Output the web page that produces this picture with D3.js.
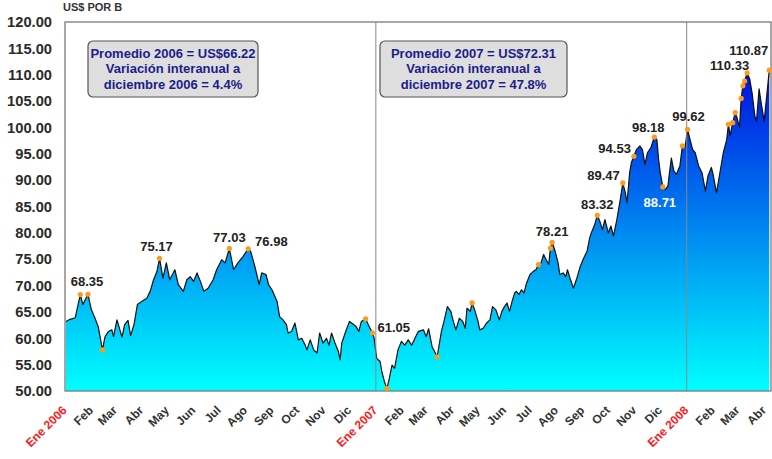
<!DOCTYPE html>
<html>
<head>
<meta charset="utf-8">
<script src="https://cdn.jsdelivr.net/npm/d3@7"></script>
<style>
body { margin: 0; background: #fff; }
svg { display: block; font-family: "Liberation Sans", Arial, sans-serif; }
</style>
</head>
<body>
<svg></svg>
<script>
// precio del petroleo, lecturas del grafico
var dates = [
  "2006-01-02","2006-01-07","2006-01-13","2006-01-15","2006-01-19","2006-01-22","2006-01-28","2006-02-01","2006-02-05","2006-02-09",
  "2006-02-14","2006-02-17","2006-02-21","2006-02-25","2006-02-27","2006-03-03","2006-03-09","2006-03-12","2006-03-16","2006-03-19",
  "2006-03-23","2006-03-27","2006-04-01","2006-04-07","2006-04-11","2006-04-15","2006-04-19","2006-04-22","2006-04-26","2006-04-30",
  "2006-05-04","2006-05-10","2006-05-14","2006-05-20","2006-05-24","2006-05-28","2006-06-01","2006-06-05","2006-06-09","2006-06-13",
  "2006-06-18","2006-06-24","2006-06-28","2006-07-04","2006-07-08","2006-07-13","2006-07-18","2006-07-23","2006-07-29","2006-08-04",
  "2006-08-07","2006-08-12","2006-08-17","2006-08-20","2006-08-25","2006-08-28","2006-09-01","2006-09-07","2006-09-10","2006-09-14",
  "2006-09-18","2006-09-20","2006-09-24","2006-09-28","2006-10-02","2006-10-06","2006-10-10","2006-10-12","2006-10-16","2006-10-20",
  "2006-10-24","2006-10-27","2006-10-31","2006-11-04","2006-11-07","2006-11-10","2006-11-14","2006-11-18","2006-11-20","2006-11-22",
  "2006-11-26","2006-12-01","2006-12-06","2006-12-09","2006-12-12","2006-12-15","2006-12-20","2006-12-23","2006-12-28","2006-12-30",
  "2007-01-02","2007-01-06","2007-01-08","2007-01-11","2007-01-14","2007-01-16","2007-01-20","2007-01-23","2007-01-27","2007-01-31",
  "2007-02-04","2007-02-08","2007-02-12","2007-02-18","2007-02-20","2007-02-26","2007-03-01","2007-03-04","2007-03-08","2007-03-11",
  "2007-03-14","2007-03-19","2007-03-22","2007-03-26","2007-03-30","2007-04-02","2007-04-05","2007-04-09","2007-04-13","2007-04-16",
  "2007-04-18","2007-04-22","2007-04-24","2007-04-27","2007-05-01","2007-05-03","2007-05-07","2007-05-11","2007-05-15","2007-05-18",
  "2007-05-22","2007-05-26","2007-05-29","2007-06-01","2007-06-04","2007-06-07","2007-06-10","2007-06-13","2007-06-15","2007-06-18",
  "2007-06-21","2007-06-24","2007-06-27","2007-07-01","2007-07-05","2007-07-08","2007-07-11","2007-07-14","2007-07-17","2007-07-20",
  "2007-07-23","2007-07-25","2007-07-27","2007-07-30","2007-08-03","2007-08-05","2007-08-09","2007-08-12","2007-08-14","2007-08-17",
  "2007-08-21","2007-08-25","2007-08-29","2007-09-02","2007-09-06","2007-09-09","2007-09-11","2007-09-15","2007-09-18","2007-09-21",
  "2007-09-24","2007-09-27","2007-10-01","2007-10-04","2007-10-07","2007-10-11","2007-10-15","2007-10-18","2007-10-21","2007-10-23",
  "2007-10-26","2007-10-28","2007-10-31","2007-11-03","2007-11-07","2007-11-10","2007-11-13","2007-11-16","2007-11-20","2007-11-24",
  "2007-11-27","2007-11-29","2007-12-01","2007-12-04","2007-12-07","2007-12-10","2007-12-12","2007-12-14","2007-12-17","2007-12-20",
  "2007-12-24","2007-12-27","2007-12-30","2008-01-02","2008-01-05","2008-01-08","2008-01-11","2008-01-15","2008-01-19","2008-01-23",
  "2008-01-26","2008-01-30","2008-02-01","2008-02-05","2008-02-09","2008-02-13","2008-02-17","2008-02-19","2008-02-21","2008-02-24",
  "2008-02-27","2008-02-29","2008-03-03","2008-03-05","2008-03-07","2008-03-09","2008-03-12","2008-03-15","2008-03-18","2008-03-21",
  "2008-03-23","2008-03-26","2008-03-29","2008-04-01","2008-04-04","2008-04-07"
];
var prices = [
  63.2,63.6,63.9,65.4,68.3,66.4,68.35,65.4,63.9,62.2,
  57.8,60.3,61.3,61.6,60.3,63.5,60.2,62.6,63.4,60.5,
  62.6,66.4,67.0,67.6,68.9,71.1,72.7,75.17,71.4,74.3,
  71.1,73.0,70.2,68.9,71.1,71.7,70.8,72.4,70.8,68.9,
  69.5,71.1,73.0,74.9,74.3,77.03,73.0,74.3,75.5,76.98,
  76.5,73.6,70.2,72.4,72.1,70.2,69.2,67.0,64.1,63.5,
  62.6,61.0,61.3,62.9,59.7,60.0,58.7,57.8,59.7,57.8,
  57.2,61.0,59.1,60.0,58.7,61.0,59.1,57.5,55.9,59.1,
  61.0,63.2,62.6,62.2,61.3,63.2,63.7,62.6,61.05,60.0,
  56.2,55.6,53.7,51.8,50.5,51.8,54.9,54.3,57.8,59.4,
  58.7,59.7,58.7,60.7,61.3,61.6,60.3,61.8,58.4,57.5,
  56.5,61.3,63.2,66.0,65.1,63.2,61.6,63.8,63.2,61.9,
  65.7,65.1,66.7,65.4,63.2,61.6,61.9,62.9,63.5,66.0,
  65.4,63.5,65.1,66.0,66.7,65.1,67.0,68.6,68.9,68.3,
  69.2,68.6,70.5,72.1,72.7,73.0,74.0,74.3,75.9,74.9,
  74.0,77.1,78.21,76.8,74.3,72.1,72.4,71.7,73.0,71.4,
  69.5,71.4,73.6,75.2,76.5,79.0,80.0,81.6,83.32,82.2,
  80.6,82.5,80.0,81.3,79.4,82.5,86.3,89.47,87.6,85.7,
  91.4,93.3,94.53,95.8,96.5,95.8,93.0,95.2,96.2,98.18,
  97.7,93.9,91.4,88.71,88.2,88.9,91.7,94.2,91.7,91.1,
  92.7,96.5,96.2,99.62,97.7,95.8,95.2,92.7,91.4,87.9,
  90.8,92.4,91.1,87.6,91.4,95.2,97.7,100.6,98.4,100.9,
  102.8,101.9,100.0,105.5,107.9,108.8,110.33,109.2,106.3,102.2,
  101.2,107.3,104.1,101.2,106.0,110.87
];

// puntos marcados en naranja
var dotDates = ["2006-01-19","2006-01-28","2006-02-14","2006-04-22","2006-07-13","2006-08-04","2006-12-20","2006-12-28",
  "2007-01-14","2007-03-14","2007-04-24","2007-07-11","2007-07-25","2007-07-27","2007-09-18","2007-10-18","2007-10-31",
  "2007-11-24","2007-12-04","2007-12-27","2008-01-02","2008-02-19","2008-02-24","2008-02-27","2008-03-05","2008-03-07",
  "2008-03-09","2008-03-12","2008-04-07"];

var labelDates = ["2006-01-28","2006-04-22","2006-07-13","2006-08-04","2006-12-28","2007-07-27","2007-09-18",
  "2007-10-18","2007-10-31","2007-11-24","2007-12-04","2008-01-02","2008-03-12","2008-04-07"];
var labelTexts = ["68.35","75.17","77.03","76.98","61.05","78.21","83.32","89.47","94.53","98.18","88.71","99.62","110.33","110.87"];

var monthTicks = ["2006-01-01","2006-02-01","2006-03-01","2006-04-01","2006-05-01","2006-06-01","2006-07-01","2006-08-01",
  "2006-09-01","2006-10-01","2006-11-01","2006-12-01","2007-01-01","2007-02-01","2007-03-01","2007-04-01","2007-05-01",
  "2007-06-01","2007-07-01","2007-08-01","2007-09-01","2007-10-01","2007-11-01","2007-12-01","2008-01-01","2008-02-01",
  "2008-03-01","2008-04-01"];
var monthLabels = ["Ene 2006","Feb","Mar","Abr","May","Jun","Jul","Ago","Sep","Oct","Nov","Dic",
  "Ene 2007","Feb","Mar","Abr","May","Jun","Jul","Ago","Sep","Oct","Nov","Dic",
  "Ene 2008","Feb","Mar","Abr"];

var yTicks = [50,55,60,65,70,75,80,85,90,95,100,105,110,115,120];

var box2006 = ["Promedio 2006 = US$66.22","Variación interanual a","diciembre 2006 = 4.4%"];
var box2007 = ["Promedio 2007 = US$72.31","Variación interanual a","diciembre 2007 = 47.8%"];

var svgWidth = 772, svgHeight = 459;
var plotLeft = 65, plotRight = 771, plotTop = 22, plotBottom = 391;

var parse = d3.timeParse("%Y-%m-%d");
var data = dates.map(function(d, i){
    return {date: parse(d), value: prices[i]};
});
var byDate = {};
data.forEach(function(d, i){ byDate[dates[i]] = d; });

var svg = d3.select("svg")
    .attr("width", svgWidth)
    .attr("height", svgHeight);

var x = d3.scaleTime()
    .domain([parse("2006-01-01"), parse("2008-04-09")])
    .range([plotLeft, plotRight]);
var y = d3.scaleLinear()
    .domain([50, 120])
    .range([plotBottom, plotTop]);

var grad = svg.append("defs").append("linearGradient")
    .attr("id", "fillGrad")
    .attr("gradientUnits", "userSpaceOnUse")
    .attr("x1", 0).attr("x2", 0)
    .attr("y1", y(115)).attr("y2", y(50));
grad.append("stop").attr("offset", 0).attr("stop-color", "#0000e0");
grad.append("stop").attr("offset", 1).attr("stop-color", "#00ffff");

// area + linea
var area = d3.area()
    .x(function(d){ return x(d.date); })
    .y0(y(50))
    .y1(function(d){ return y(d.value); });
var line = d3.line()
    .x(function(d){ return x(d.date); })
    .y(function(d){ return y(d.value); });

svg.append("path")
    .datum(data)
    .attr("d", area)
    .attr("fill", "url(#fillGrad)");

svg.append("path")
    .datum(data)
    .attr("d", line)
    .attr("fill", "none")
    .attr("stroke", "#111")
    .attr("stroke-width", 1.2)
    .attr("stroke-linejoin", "round");

// separadores de año
svg.selectAll("line.sep")
    .data(["2007-01-01", "2008-01-01"])
    .enter()
    .append("line")
    .attr("class", "sep")
    .attr("x1", function(d){ return x(parse(d)); })
    .attr("x2", function(d){ return x(parse(d)); })
    .attr("y1", plotTop)
    .attr("y2", plotBottom)
    .attr("stroke", "#888")
    .attr("stroke-width", 1);

svg.append("rect")
    .attr("x", plotLeft)
    .attr("y", plotTop)
    .attr("width", plotRight - plotLeft)
    .attr("height", plotBottom - plotTop)
    .attr("fill", "none")
    .attr("stroke", "#7a7a7a")
    .attr("stroke-width", 1.3);

// puntos naranjas
svg.selectAll("circle.dot")
    .data(dotDates.map(function(d){ return byDate[d]; }))
    .enter()
    .append("circle")
    .attr("class", "dot")
    .attr("cx", function(d){ return x(d.date); })
    .attr("cy", function(d){ return y(d.value); })
    .attr("r", 2.6)
    .attr("fill", "#ff9a1a");

// etiquetas de valores: [dx, dy, anchor]
var labelPlace = [[-1,-8,"middle"],[-3,-7,"middle"],[0,-7,"middle"],[7,-3,"start"],[5,-1,"start"],
    [0,-6,"middle"],[0,-6,"middle"],[-3,-3,"end"],[-3,-3,"end"],[-6,-5,"middle"],
    [-3,20,"middle"],[1,-8,"middle"],[2,-3,"end"],[-1,-15,"end"]];

svg.selectAll("text.val")
    .data(labelDates)
    .enter()
    .append("text")
    .attr("class", "val")
    .attr("x", function(d, i){ return x(byDate[d].date) + labelPlace[i][0]; })
    .attr("y", function(d, i){ return y(byDate[d].value) + labelPlace[i][1]; })
    .attr("text-anchor", function(d, i){ return labelPlace[i][2]; })
    .attr("font-size", 13)
    .attr("font-weight", "bold")
    .attr("fill", function(d, i){ return labelTexts[i] == "88.71" ? "#ffffff" : "#222"; })
    .text(function(d, i){ return labelTexts[i]; });

// ejes
var yAxis = svg.append("g")
    .attr("transform", "translate(" + plotLeft + ",0)")
    .call(d3.axisLeft(y).tickValues(yTicks).tickFormat(d3.format(".2f")).tickSize(0).tickPadding(13));
yAxis.select(".domain").remove();
yAxis.selectAll("text")
    .attr("font-family", "Liberation Sans, Arial, sans-serif")
    .attr("font-size", 14.7)
    .attr("font-weight", "bold")
    .attr("fill", "#2a2a2a");

var xAxis = svg.append("g")
    .attr("transform", "translate(0," + plotBottom + ")")
    .call(d3.axisBottom(x).tickValues(monthTicks.map(parse))
        .tickFormat(function(d, i){ return monthLabels[i]; }).tickSize(0));
xAxis.select(".domain").remove();
xAxis.selectAll("text")
    .attr("x", 0)
    .attr("y", 0)
    .attr("dy", 0)
    .attr("transform", "translate(2,20) rotate(-45)")
    .attr("text-anchor", "end")
    .attr("font-family", "Liberation Sans, Arial, sans-serif")
    .attr("font-size", 12)
    .attr("font-weight", "bold")
    .attr("fill", function(d, i){ return monthLabels[i].indexOf("Ene") == 0 ? "#ff1a1a" : "#333"; });

// titulo eje
svg.append("text")
    .attr("x", 63)
    .attr("y", 11)
    .attr("font-size", 11)
    .attr("font-weight", "bold")
    .attr("fill", "#333")
    .text("US$ POR B");

// cajas de promedio
function drawBox(lines, bx, bw){
    var g = svg.append("g");
    g.append("rect")
        .attr("x", bx).attr("y", 41)
        .attr("width", bw).attr("height", 56)
        .attr("rx", 5)
        .attr("fill", "#dedede")
        .attr("stroke", "#555")
        .attr("stroke-width", 1.2);
    g.selectAll("text")
        .data(lines)
        .enter()
        .append("text")
        .attr("x", bx + bw / 2)
        .attr("y", function(d, i){ return 57.5 + i * 15.5; })
        .attr("text-anchor", "middle")
        .attr("font-size", 13)
        .attr("font-weight", "bold")
        .attr("fill", "#1c1c8c")
        .text(function(d){ return d; });
}
drawBox(box2006, 88, 170);
drawBox(box2007, 380, 187);
</script>
</body>
</html>
